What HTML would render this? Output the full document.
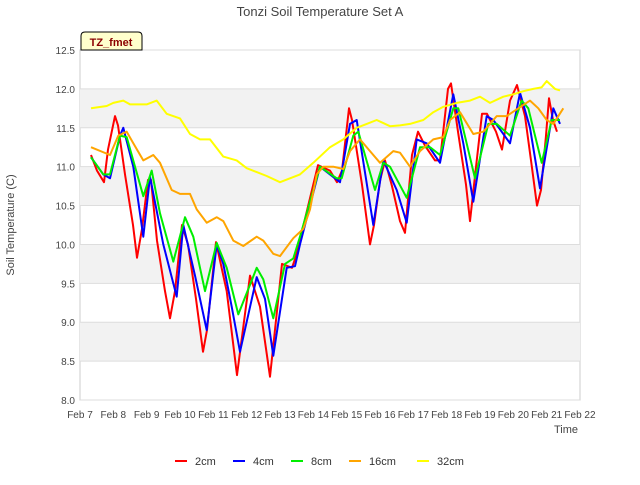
<!DOCTYPE html>
<html><head><meta charset="utf-8"><style>
body{margin:0;background:#fff;font-family:"Liberation Sans",sans-serif}
svg text{font-family:"Liberation Sans",sans-serif}
</style></head><body>
<svg id="c" width="640" height="480" viewBox="0 0 640 480">
<rect width="640" height="480" fill="#fff"/>
<text x="320" y="16" text-anchor="middle" font-size="13" fill="#444">Tonzi Soil Temperature Set A</text>
<g id="grid"></g><g id="axes"></g><g id="series"></g>
<text x="14" y="225" transform="rotate(-90 14 225)" text-anchor="middle" font-size="11" fill="#444">Soil Temperature (C)</text>
<text x="578" y="433" text-anchor="end" font-size="11" fill="#444">Time</text>
<g>
<path d="M81 50 L81 36 Q81 32 85 32 L138 32 Q142 32 142 36 L142 50 Z" fill="#ffffcc" stroke="#000"/>
<text x="111" y="46" text-anchor="middle" font-size="11" font-weight="bold" fill="#8b0000">TZ_fmet</text>
</g>
<g id="legend"></g>
</svg>
<script>
const yTicks=[8.0,8.5,9.0,9.5,10.0,10.5,11.0,11.5,12.0,12.5];
const xTickLabels=["Feb 7","Feb 8","Feb 9","Feb 10","Feb 11","Feb 12","Feb 13","Feb 14","Feb 15","Feb 16","Feb 17","Feb 18","Feb 19","Feb 20","Feb 21","Feb 22"];
const seriesNames=["2cm","4cm","8cm","16cm","32cm"];
const seriesColors=["#ff0000","#0000ff","#00ee00","#ffa500","#ffff00"];
const t2=[7.33,7.51,7.72,7.84,8.05,8.14,8.35,8.59,8.71,8.86,9.04,9.13,9.31,9.55,9.70,9.85,10.06,10.24,10.48,10.69,10.81,11.08,11.4,11.71,12.1,12.4,12.7,13.06,13.36,13.48,14.14,14.5,14.71,14.86,15.07,15.16,15.46,15.7,15.82,16.0,16.15,16.36,16.6,16.75,16.96,17.14,17.35,17.65,17.8,18.04,18.13,18.34,18.58,18.7,18.85,19.06,19.21,19.48,19.66,19.9,20.11,20.35,20.53,20.71,20.83,20.98,21.07,21.19,21.31];
const v2=[11.15,10.95,10.8,11.22,11.65,11.53,10.9,10.25,9.83,10.2,10.83,10.83,10.05,9.4,9.05,9.4,10.25,10.0,9.3,8.62,8.9,10.03,9.4,8.32,9.6,9.2,8.3,9.75,9.7,9.85,11.02,10.95,10.8,10.95,11.75,11.6,10.77,10.0,10.25,10.82,11.08,10.75,10.3,10.15,11.15,11.45,11.27,11.08,11.08,12.0,12.07,11.45,10.77,10.3,10.88,11.68,11.68,11.45,11.22,11.85,12.05,11.65,11.08,10.5,10.7,11.4,11.88,11.6,11.45];
const t4=[7.33,7.7,7.9,8.2,8.3,8.6,8.9,9.1,9.5,9.9,10.1,10.45,10.8,11.1,11.3,11.55,11.8,12.3,12.55,12.8,13.2,13.45,13.6,14.2,14.8,15.1,15.3,15.8,16.1,16.5,16.8,17.1,17.4,17.8,18.2,18.5,18.8,19.2,19.4,19.9,20.2,20.5,20.8,21.2,21.4];
const v4=[11.12,10.9,10.85,11.4,11.5,11.0,10.1,10.87,10.0,9.33,10.25,9.6,8.9,10.0,9.75,9.2,8.62,9.58,9.3,8.57,9.7,9.72,10.0,11.0,10.8,11.55,11.6,10.25,11.08,10.7,10.28,11.35,11.3,11.05,11.93,11.3,10.55,11.65,11.6,11.3,11.95,11.5,10.72,11.75,11.55];
const t8=[7.33,7.7,7.9,8.2,8.4,8.9,9.15,9.4,9.8,10.15,10.4,10.75,11.1,11.4,11.75,12.3,12.5,12.8,13.15,13.4,13.6,14.2,14.7,14.85,15.2,15.35,15.85,16.1,16.3,16.8,17.2,17.5,17.8,18.2,18.35,18.85,19.25,19.5,19.9,20.25,20.45,20.85,21.15,21.4];
const v8=[11.12,10.9,10.9,11.4,11.38,10.62,10.95,10.4,9.78,10.35,10.1,9.4,10.02,9.7,9.1,9.7,9.55,9.05,9.75,9.82,10.1,11.0,10.85,10.85,11.4,11.45,10.7,11.05,11.0,10.6,11.25,11.25,11.15,11.75,11.75,10.85,11.55,11.55,11.4,11.85,11.75,11.05,11.6,11.6];
const t16=[7.33,7.9,8.15,8.4,8.6,8.9,9.2,9.4,9.75,10.0,10.3,10.5,10.8,11.1,11.3,11.6,11.9,12.3,12.5,12.8,13.0,13.4,13.7,13.9,14.1,14.3,14.6,14.9,15.1,15.4,15.7,16.0,16.4,16.6,16.9,17.2,17.6,17.9,18.1,18.4,18.8,19.1,19.5,19.8,20.15,20.5,20.75,21.0,21.2,21.5];
const v16=[11.25,11.15,11.4,11.45,11.3,11.08,11.15,11.05,10.7,10.65,10.65,10.45,10.28,10.35,10.3,10.05,9.98,10.1,10.05,9.88,9.85,10.08,10.2,10.45,10.9,11.0,11.0,10.97,11.2,11.35,11.2,11.05,11.2,11.18,11.0,11.2,11.35,11.38,11.6,11.7,11.42,11.45,11.65,11.65,11.75,11.85,11.75,11.6,11.55,11.75];
const t32=[7.33,7.8,8.0,8.3,8.5,9.0,9.3,9.6,10.0,10.3,10.6,10.9,11.3,11.7,12.0,12.3,12.6,13.0,13.3,13.6,14.0,14.5,14.9,15.3,15.6,15.9,16.3,16.6,16.9,17.3,17.6,17.9,18.3,18.7,19.0,19.3,19.7,20.0,20.3,20.6,20.85,21.0,21.25,21.4];
const v32=[11.75,11.78,11.82,11.85,11.8,11.8,11.85,11.68,11.62,11.42,11.35,11.35,11.13,11.08,10.98,10.93,10.88,10.8,10.85,10.9,11.05,11.25,11.35,11.5,11.55,11.6,11.52,11.53,11.55,11.6,11.7,11.77,11.82,11.85,11.9,11.82,11.9,11.93,11.97,12.0,12.02,12.1,12.0,11.98];
const times=[t2,t4,t8,t16,t32], vals=[v2,v4,v8,v16,v32];

const NS="http://www.w3.org/2000/svg";
const L=80,R=580,T=50,B=400,xMin=7,xMax=22,yMin=8,yMax=12.5;
const xS=d=>L+(d-xMin)/(xMax-xMin)*(R-L);
const yS=v=>B-(v-yMin)/(yMax-yMin)*(B-T);
function mk(tag,attrs,parent){const e=document.createElementNS(NS,tag);for(const k in attrs)e.setAttribute(k,attrs[k]);parent.appendChild(e);return e;}
const grid=document.getElementById('grid'),axes=document.getElementById('axes'),ser=document.getElementById('series'),leg=document.getElementById('legend');
const bg=mk('rect',{x:L,y:T,width:R-L,height:B-T,fill:'#fff',stroke:'#ccc'},grid);


for(let i=0;i<yTicks.length-1;i++){
  if(i%2===1){const b=mk('rect',{x:L,y:yS(yTicks[i+1]),width:R-L,height:yS(yTicks[i])-yS(yTicks[i+1]),fill:'#f2f2f2'},grid);
  
  }
}
yTicks.forEach(v=>{
  const ln=mk('line',{x1:L,x2:R,y1:yS(v),y2:yS(v),stroke:'#ddd'},grid);
  
  
  const tx=mk('text',{x:L-5,y:yS(v)+4,'text-anchor':'end','font-size':'10',fill:'#444'},axes);
  tx.textContent=v.toFixed(1);
  
  
});
xTickLabels.forEach((s,i)=>{
  const tx=mk('text',{x:xS(xMin+i),y:418,'text-anchor':'middle','font-size':'10',fill:'#444'},axes);
  tx.textContent=s;
  
  
});
times.forEach((ts,si)=>{
  const pts=ts.map((t,j)=>xS(t).toFixed(1)+','+yS(vals[si][j]).toFixed(1)).join(' ');
  const pl=mk('polyline',{points:pts,fill:'none',stroke:seriesColors[si],'stroke-width':'2','stroke-linejoin':'round'},ser);
  
  
});
const legX=[175,233,291,349,417];
seriesNames.forEach((n,i)=>{
  const g=mk('g',{},leg);
  
  
  mk('line',{x1:legX[i],x2:legX[i]+12,y1:461,y2:461,stroke:seriesColors[i],'stroke-width':'2'},g);
  const tx=mk('text',{x:legX[i]+20,y:465,'font-size':'11',fill:'#333'},g);
  tx.textContent=n;
});
</script>
</body></html>
